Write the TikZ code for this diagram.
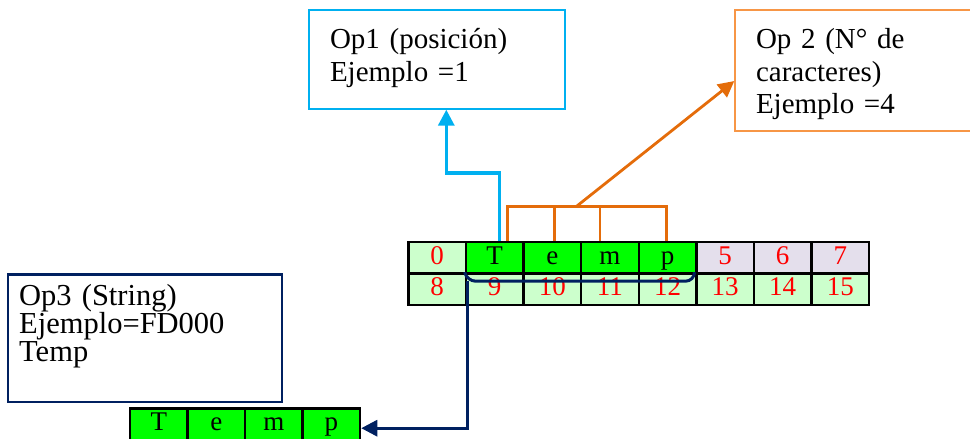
\documentclass[tikz,border=0pt]{standalone}
\usepackage{fontspec}
\setmainfont{Liberation Serif}
\usetikzlibrary{arrows.meta,positioning,calc}
\definecolor{celeste}{HTML}{00B0F0}
\definecolor{naranja}{HTML}{E46C0A}
\definecolor{naranjaclaro}{HTML}{F79646}
\definecolor{marino}{HTML}{002060}
\definecolor{verdeclaro}{HTML}{CCFFCC}
\definecolor{verde}{HTML}{00FF00}
\definecolor{lila}{HTML}{E4DFEC}
\tikzset{
    celda/.style={draw, line width=2.4pt, minimum width=57.6pt, minimum height=31.7pt,
        inner sep=0pt, font=\fontsize{27}{27}\selectfont, text height=17pt, text depth=4pt},
    caja/.style={draw, line width=2pt, anchor=north west, align=left, inner ysep=0pt,
        font=\fontsize{29}{33}\selectfont},
    flecha/.style={line width=3pt, -{Triangle[length=16pt,width=16pt]}}
}

\begin{document}
\begin{tikzpicture}[x=1pt, y=-1pt]
                                \useasboundingbox (0,0) rectangle (970,439);
                                % tabla de memoria
                                \foreach \i/\t/\f/\c in {0/0/verdeclaro/red, 1/T/verde/black, 2/e/verde/black,
                                    3/m/verde/black, 4/p/verde/black, 5/5/lila/red, 6/6/lila/red, 7/7/lila/red,
                                    8/8/verdeclaro/red, 9/9/verdeclaro/red, 10/10/verdeclaro/red, 11/11/verdeclaro/red,
                                    12/12/verdeclaro/red, 13/13/verdeclaro/red, 14/14/verdeclaro/red, 15/15/verdeclaro/red}
                                {
                                    \pgfmathtruncatemacro\col{mod(\i,8)}
                                    \pgfmathtruncatemacro\fila{div(\i,8)}
                                    \node[celda, fill=\f, text=\c] (c\i) at ({408.3+57.6*(\col+0.5)}, {241.7+31.7*(\fila+0.5)}) {\t};
                                }
                                % resultado
                                \foreach \t [count=\k] in {T,e,m,p}
                                    \node[celda, fill=verde] (r\k) at ({130+57.5*(\k-0.5)}, 424.2) {\t};
                                % cajas
                                \node[caja, draw=celeste, inner xsep=20.7pt, text width=214.6pt,
                                    text height=38.4pt, text depth=60pt] (op1) at (308.3, 9.3)
                                    {Op1 (posición)\\Ejemplo =1};
                                \node[caja, draw=naranjaclaro, inner xsep=20.7pt, text width=210pt,
                                    text height=37.7pt, text depth=83pt] (op2) at (734.3, 9.3)
                                    {Op 2 (N° de\\caracteres)\\Ejemplo =4};
                                \node[caja, draw=marino, line width=2.4pt, inner xsep=11.3pt, text width=251.7pt,
                                    text height=31pt, text depth=96.7pt, font=\fontsize{30.5}{28}\selectfont] (op3) at (6.7, 273.3)
                                    {Op3 (String)\\Ejemplo=FD000\\Temp};
                                % flechas
                                \draw[flecha, celeste, line width=3.3pt] ([xshift=4.5pt]c1.north) -- ++(0,-67.6) -| ([xshift=9pt]op1.south);
                                \coordinate (barra) at ($(c2.north)+(24,-34)$);
                                \draw[naranja, line width=2.8pt] ([xshift=13pt]c1.north) |- (barra) -| ([xshift=-1pt]c4.north);
                                \draw[naranja, line width=2.8pt]
                                ([xshift=2pt]c2.north) -- ([xshift=2pt]c2.north |- barra)
                                ([xshift=-10pt]c3.north) -- ([xshift=-10pt]c3.north |- barra);
                                \draw[flecha, naranja, line width=2.8pt] (barra) -- ([yshift=-10.4pt]op2.west);
                                \draw[marino, line width=3pt, rounded corners=9pt] (c9.north west) -- ++(2,9) -| ([xshift=-3pt]c12.north east);
                                \coordinate (llave) at ($(c9.north west)+(3,9)$);
                                \draw[flecha, marino] (llave) |- ([yshift=-4pt]r4.east);
                            \end{tikzpicture}
\end{document}
